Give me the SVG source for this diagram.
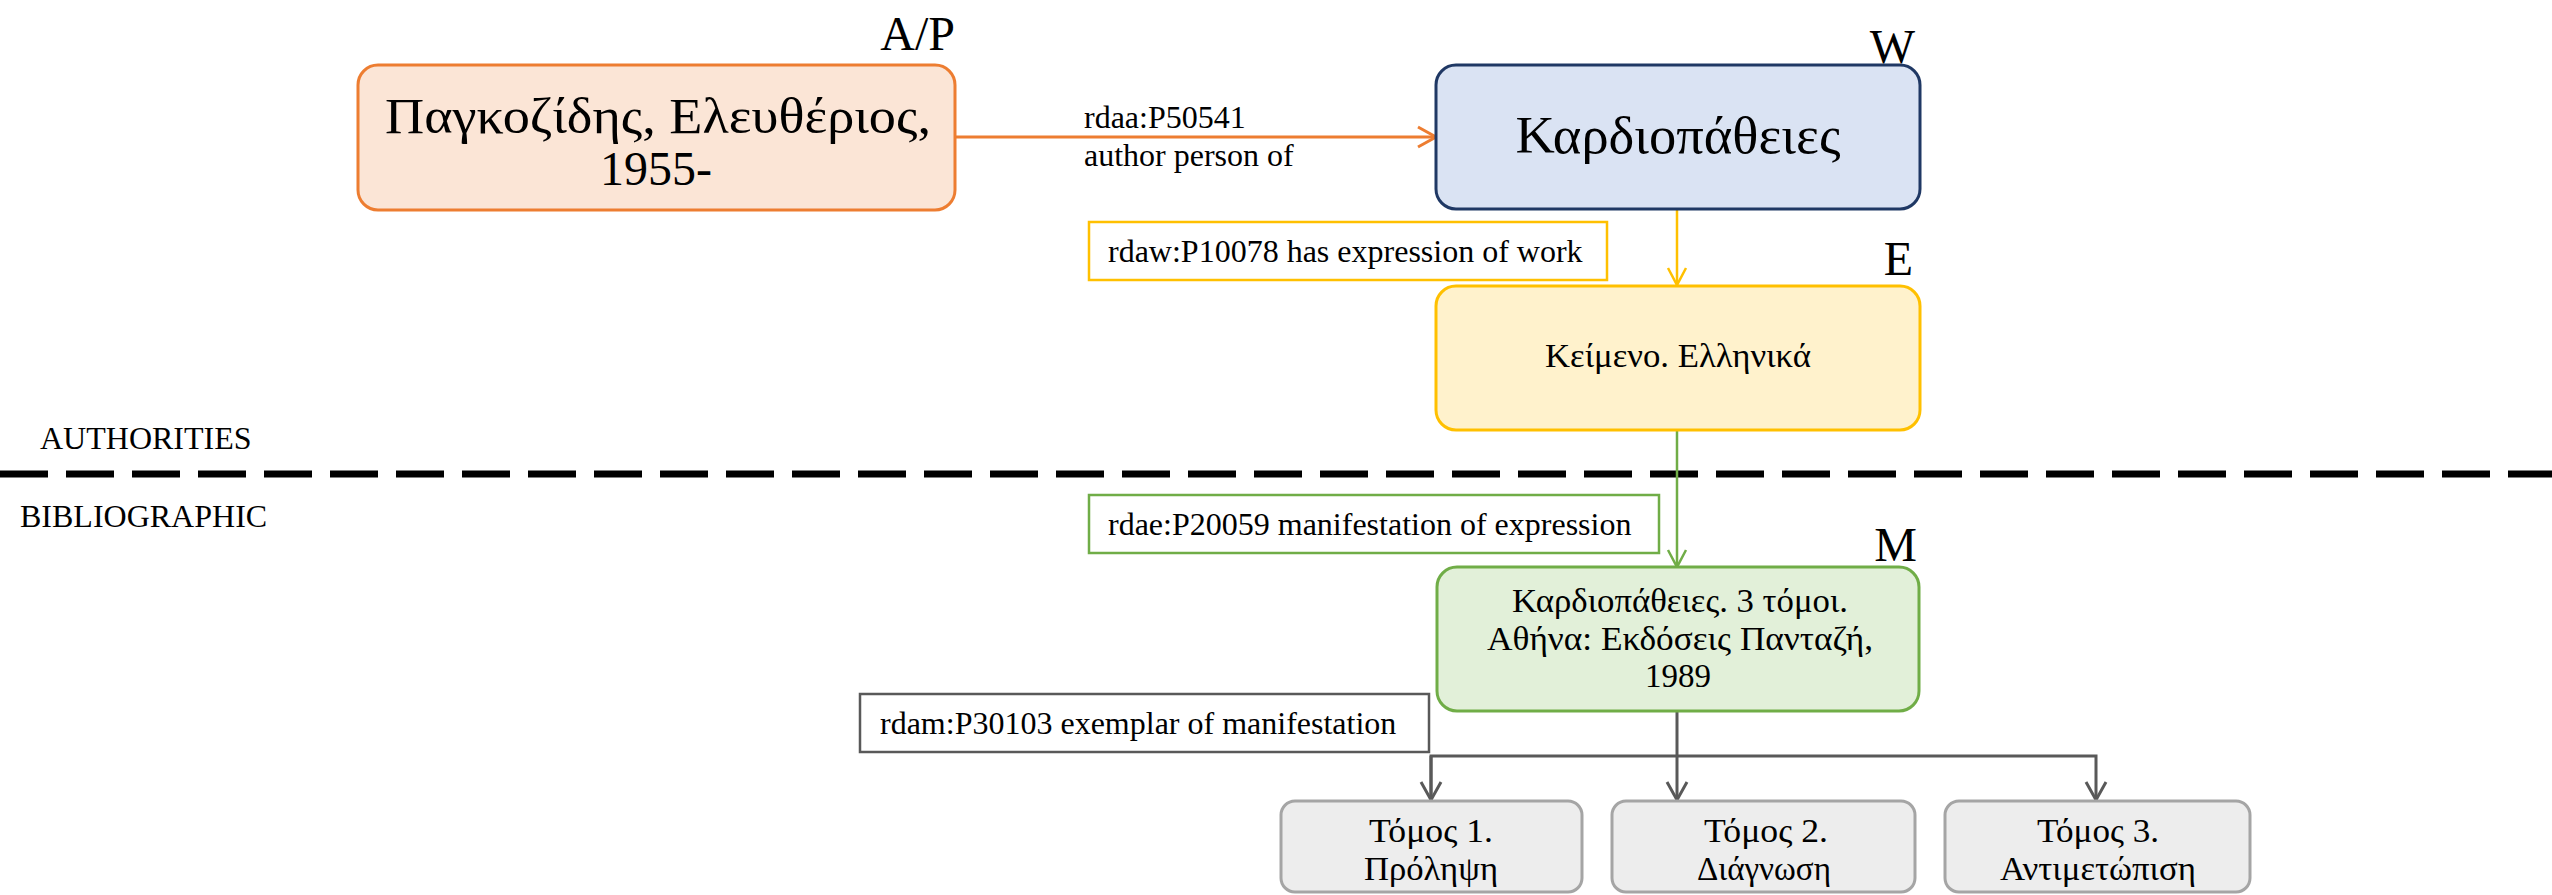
<svg xmlns="http://www.w3.org/2000/svg" width="2552" height="895" viewBox="0 0 2552 895">
<style>
text{font-family:"Liberation Serif","DejaVu Serif",serif;fill:#000}
.lbl{font-size:48px;text-anchor:end}
.big{font-size:48px;text-anchor:middle}
.mid{font-size:33px;text-anchor:middle}
.sm{font-size:32px}
.box{stroke-width:3}
</style>
<defs>
<marker id="aO" markerWidth="24" markerHeight="24" refX="20" refY="12" orient="auto" markerUnits="userSpaceOnUse"><path d="M2,2 L20,12 L2,22" fill="none" stroke="#ED7D31" stroke-width="3"/></marker>
<marker id="aY" markerWidth="24" markerHeight="24" refX="20" refY="12" orient="auto" markerUnits="userSpaceOnUse"><path d="M3,3 L20,12 L3,21" fill="none" stroke="#FFC000" stroke-width="2.5"/></marker>
<marker id="aG" markerWidth="24" markerHeight="24" refX="20" refY="12" orient="auto" markerUnits="userSpaceOnUse"><path d="M3,3 L20,12 L3,21" fill="none" stroke="#70AD47" stroke-width="2.5"/></marker>
<marker id="aK" markerWidth="24" markerHeight="24" refX="20" refY="12" orient="auto" markerUnits="userSpaceOnUse"><path d="M2,2 L20,12 L2,22" fill="none" stroke="#595959" stroke-width="3"/></marker>
</defs>
<rect width="2552" height="895" fill="#fff"/>

<g id="divider">
<line x1="0" y1="474" x2="2552" y2="474" stroke="#000" stroke-width="7" stroke-dasharray="48 18"/>
<text class="sm" x="40" y="449">AUTHORITIES</text>
<text class="sm" x="20" y="527">BIBLIOGRAPHIC</text>
</g>

<g id="connectors" fill="none">
<line x1="955" y1="137" x2="1436" y2="137" stroke="#ED7D31" stroke-width="3" marker-end="url(#aO)"/>
<line x1="1677" y1="209" x2="1677" y2="285" stroke="#FFC000" stroke-width="2.5" marker-end="url(#aY)"/>
<line x1="1677" y1="430" x2="1677" y2="567" stroke="#70AD47" stroke-width="2.5" marker-end="url(#aG)"/>
<path d="M1677,711 V756" stroke="#595959" stroke-width="3"/>
<path d="M1431,800 V756 H2096 V800" stroke="#595959" stroke-width="3" marker-start="url(#aK)" marker-end="url(#aK)"/>
<line x1="1431" y1="756" x2="1431" y2="800" stroke="#595959" stroke-width="3" marker-end="url(#aK)"/>
<line x1="1677" y1="756" x2="1677" y2="800" stroke="#595959" stroke-width="3" marker-end="url(#aK)"/>
</g>

<g id="edge-labels">
<text class="sm" x="1084" y="128">rdaa:P50541</text>
<text class="sm" x="1084" y="166">author person of</text>
<g id="lbl-expr"><rect x="1089" y="222" width="518" height="58" fill="#fff" stroke="#FFC000" stroke-width="2.5"/><text class="sm" x="1108" y="262">rdaw:P10078 has expression of work</text></g>
<g id="lbl-manif"><rect x="1089" y="495" width="570" height="58" fill="#fff" stroke="#70AD47" stroke-width="2.5"/><text class="sm" x="1108" y="535">rdae:P20059 manifestation of expression</text></g>
<g id="lbl-exemplar"><rect x="860" y="694" width="569" height="58" fill="#fff" stroke="#595959" stroke-width="2.5"/><text class="sm" x="880" y="734">rdam:P30103 exemplar of manifestation</text></g>
</g>

<g id="node-agent">
<rect class="box" x="358" y="65" width="597" height="145" rx="20" fill="#FBE5D6" stroke="#ED7D31"/>
<text class="lbl" x="955" y="50">A/P</text>
<text class="big" x="658" y="133" style="font-size:50px" textLength="546" lengthAdjust="spacingAndGlyphs">Παγκοζίδης, Ελευθέριος,</text>
<text class="big" x="656" y="185">1955-</text>
</g>

<g id="node-work">
<rect class="box" x="1436" y="65" width="484" height="144" rx="20" fill="#DAE3F3" stroke="#1F3864"/>
<text class="lbl" x="1915" y="63">W</text>
<text class="big" x="1678" y="153" style="font-size:53px" textLength="325" lengthAdjust="spacingAndGlyphs">Καρδιοπάθειες</text>
</g>

<g id="node-expression">
<rect class="box" x="1436" y="286" width="484" height="144" rx="20" fill="#FFF2CC" stroke="#FFC000"/>
<text class="lbl" x="1913" y="275">E</text>
<text class="mid" x="1678" y="367" textLength="266" lengthAdjust="spacingAndGlyphs">Κείμενο. Ελληνικά</text>
</g>

<g id="node-manifestation">
<rect class="box" x="1437" y="567" width="482" height="144" rx="20" fill="#E2F0D9" stroke="#70AD47"/>
<text class="lbl" x="1917" y="561">M</text>
<text class="mid" x="1680" y="612" textLength="336" lengthAdjust="spacingAndGlyphs">Καρδιοπάθειες. 3 τόμοι.</text>
<text class="mid" x="1680" y="650" textLength="386" lengthAdjust="spacingAndGlyphs">Αθήνα: Εκδόσεις Πανταζή,</text>
<text class="mid" x="1678" y="687">1989</text>
</g>

<g id="node-item1">
<rect class="box" x="1281" y="801" width="301" height="91" rx="14" fill="#EDEDED" stroke="#A5A5A5"/>
<text class="mid" x="1431" y="842" textLength="124" lengthAdjust="spacingAndGlyphs">Τόμος 1.</text>
<text class="mid" x="1431" y="880" textLength="134" lengthAdjust="spacingAndGlyphs">Πρόληψη</text>
</g>
<g id="node-item2">
<rect class="box" x="1612" y="801" width="303" height="91" rx="14" fill="#EDEDED" stroke="#A5A5A5"/>
<text class="mid" x="1766" y="842" textLength="124" lengthAdjust="spacingAndGlyphs">Τόμος 2.</text>
<text class="mid" x="1764" y="880" textLength="134" lengthAdjust="spacingAndGlyphs">Διάγνωση</text>
</g>
<g id="node-item3">
<rect class="box" x="1945" y="801" width="305" height="91" rx="14" fill="#EDEDED" stroke="#A5A5A5"/>
<text class="mid" x="2098" y="842" textLength="122" lengthAdjust="spacingAndGlyphs">Τόμος 3.</text>
<text class="mid" x="2098" y="880" textLength="196" lengthAdjust="spacingAndGlyphs">Αντιμετώπιση</text>
</g>
</svg>
